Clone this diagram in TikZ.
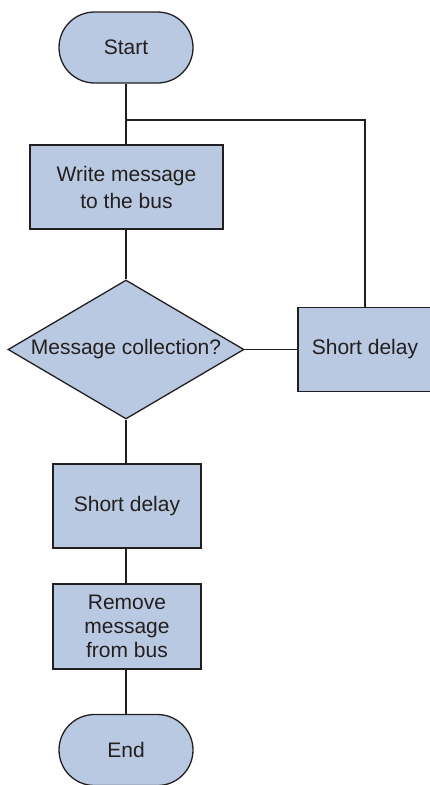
\documentclass[tikz,border=0pt]{standalone}
\usepackage{fontspec}
\setmainfont{Liberation Sans}
\usetikzlibrary{shapes.misc,shapes.geometric}
\definecolor{boxfill}{RGB}{185,201,225}
\definecolor{ink}{RGB}{35,31,32}
\begin{document}
\begin{tikzpicture}[x=1pt,y=-1pt,
  every node/.style={font=\fontsize{21}{25}\selectfont, text=ink},
  term/.style={rounded rectangle, draw=ink, line width=1.3pt, fill=boxfill, minimum width=134pt, minimum height=71pt, inner sep=0pt},
  proc/.style={rectangle, draw=ink, line width=1.3pt, fill=boxfill, inner sep=0pt, align=center},
  decis/.style={diamond, draw=ink, line width=1.3pt, fill=boxfill, minimum width=236pt, minimum height=139pt, inner sep=0pt},
  link/.style={draw=ink, line width=1.1pt}]
\useasboundingbox (0,0) rectangle (430,785);
\node[term] (start) at (126,47.5) {Start};
\node[proc, minimum width=193pt, minimum height=84pt, font=\fontsize{21}{27}\selectfont] (write) at (126.5,187) {Write message\\to the bus};
\node[decis] (dec) at (126,349.5) {};
\node (dectext) at (dec.center) {Message collection?};
\node[proc, minimum width=134pt, minimum height=84pt] (rdelay) at (365,349.5) {Short delay};
\node[proc, minimum width=148pt, minimum height=84pt] (delay) at (127,506) {Short delay};
\node[proc, minimum width=148pt, minimum height=85pt, font=\fontsize{21}{24}\selectfont] (remove) at (127,626.5) {Remove\\message\\from bus};
\node[term] (end) at (126,750) {End};
\coordinate (j) at (126,120);
\begin{scope}[on background layer/.try]
\end{scope}
\draw[link] (start.south) -- (start.south |- write.north);
\draw[link] (rdelay.north) |- (j);
\draw[link] (write.south -| dec.north) -- (dec.north);
\draw[link] (dec.east) -- (rdelay.west);
\draw[link] (dec.south) -- (dec.south |- delay.north);
\draw[link] (dec.south |- delay.south) -- (dec.south |- remove.north);
\draw[link] (dec.south |- remove.south) -- (end.north);
\end{tikzpicture}
\end{document}
